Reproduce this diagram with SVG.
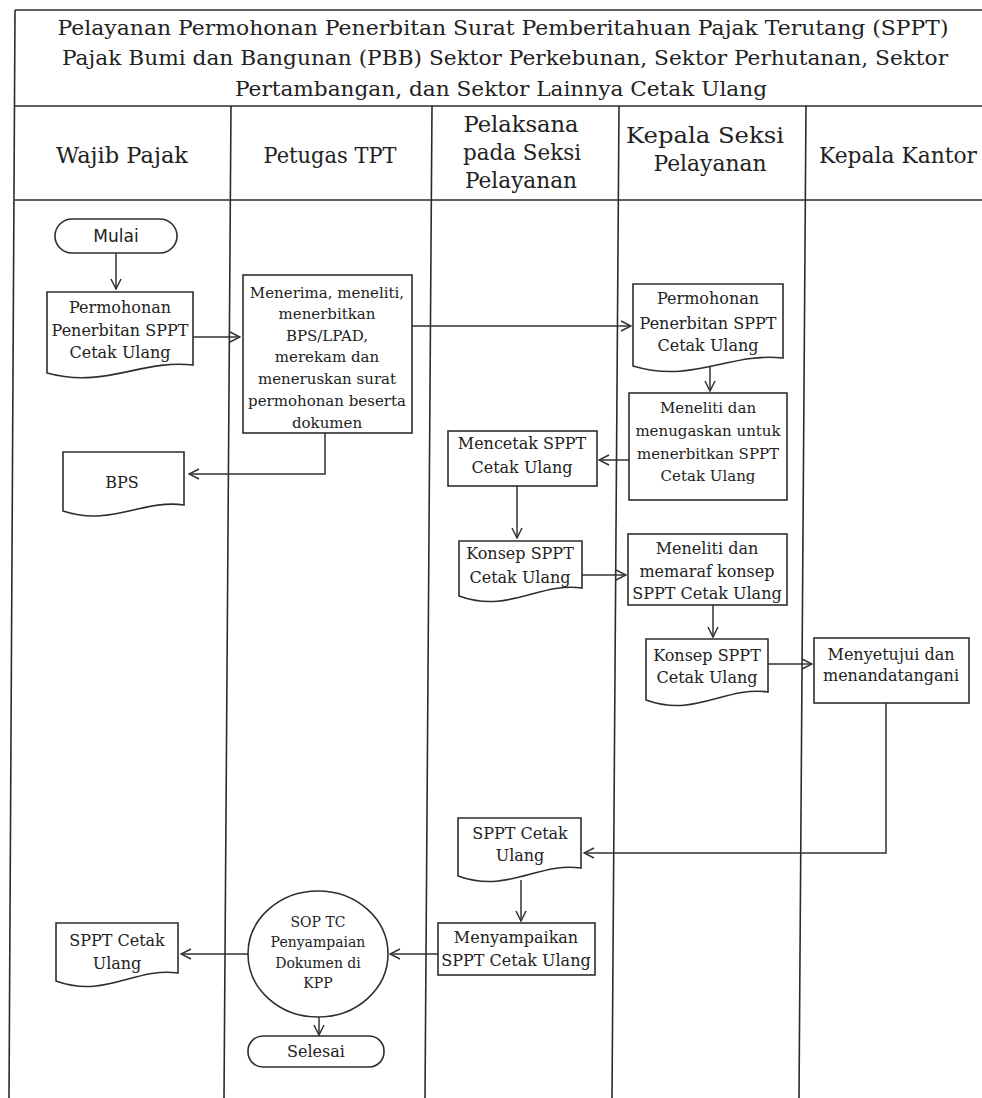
<svg xmlns="http://www.w3.org/2000/svg" width="982" height="1098" viewBox="0 0 982 1098">
<defs>
<marker id="arr" markerUnits="userSpaceOnUse" markerWidth="12" markerHeight="12" viewBox="0 0 12 12" refX="11" refY="6" orient="auto">
<path d="M1,1 L11,6 L1,11" fill="none" stroke="#333" stroke-width="1.5"/>
</marker>
<style>
.frame{stroke:#2b2b2b;stroke-width:1.6;fill:none}
.shape{fill:#fff;stroke:#2e2e2e;stroke-width:1.6}
.conn{fill:none;stroke:#333;stroke-width:1.5}
.t{font-family:"DejaVu Serif","Liberation Serif",serif;fill:#222;text-anchor:middle}
.title{font-size:20px}
.hdr{font-size:22px}
.n{font-size:16px}
.m{font-size:15px}
.s{font-size:14px}
.sans{font-family:"DejaVu Sans","Liberation Sans",sans-serif;font-size:17px;fill:#222;text-anchor:middle}
</style>
</defs>
<rect width="982" height="1098" fill="#fff"/>
<g id="frame">
<line class="frame" x1="15" y1="10" x2="982" y2="10"/>
<line class="frame" x1="15" y1="106" x2="982" y2="106"/>
<line class="frame" x1="15" y1="200" x2="982" y2="200"/>
<line class="frame" x1="15" y1="10" x2="9" y2="1098"/>
<line class="frame" x1="231" y1="106" x2="224" y2="1098"/>
<line class="frame" x1="432" y1="106" x2="425" y2="1098"/>
<line class="frame" x1="619" y1="106" x2="612" y2="1098"/>
<line class="frame" x1="806" y1="106" x2="799" y2="1098"/>
</g>
<g id="title">
<text class="t title" x="503" y="35" textLength="891" lengthAdjust="spacingAndGlyphs">Pelayanan Permohonan Penerbitan Surat Pemberitahuan Pajak Terutang (SPPT)</text>
<text class="t title" x="505" y="65" textLength="886" lengthAdjust="spacingAndGlyphs">Pajak Bumi dan Bangunan (PBB) Sektor Perkebunan, Sektor Perhutanan, Sektor</text>
<text class="t title" x="501" y="96" textLength="532" lengthAdjust="spacingAndGlyphs">Pertambangan, dan Sektor Lainnya Cetak Ulang</text>
</g>
<g id="headers">
<text class="t hdr" x="122" y="163" textLength="132" lengthAdjust="spacingAndGlyphs">Wajib Pajak</text>
<text class="t hdr" x="330" y="163" textLength="133" lengthAdjust="spacingAndGlyphs">Petugas TPT</text>
<text class="t hdr" x="521" y="132" textLength="115" lengthAdjust="spacingAndGlyphs">Pelaksana</text>
<text class="t hdr" x="522" y="160" textLength="118" lengthAdjust="spacingAndGlyphs">pada Seksi</text>
<text class="t hdr" x="521" y="188" textLength="112" lengthAdjust="spacingAndGlyphs">Pelayanan</text>
<text class="t hdr" x="705" y="143" textLength="158" lengthAdjust="spacingAndGlyphs">Kepala Seksi</text>
<text class="t hdr" x="710" y="171" textLength="113" lengthAdjust="spacingAndGlyphs">Pelayanan</text>
<text class="t hdr" x="898" y="163" textLength="158" lengthAdjust="spacingAndGlyphs">Kepala Kantor</text>
</g>
<g id="connectors">
<line class="conn" x1="116" y1="253" x2="116" y2="289" marker-end="url(#arr)"/>
<line class="conn" x1="193" y1="337" x2="240" y2="337" marker-end="url(#arr)"/>
<line class="conn" x1="412" y1="326" x2="631" y2="326" marker-end="url(#arr)"/>
<polyline class="conn" points="325,433 325,474 189,474" marker-end="url(#arr)"/>
<line class="conn" x1="710" y1="362" x2="710" y2="391" marker-end="url(#arr)"/>
<line class="conn" x1="629" y1="460" x2="599" y2="460" marker-end="url(#arr)"/>
<line class="conn" x1="517" y1="486" x2="517" y2="538" marker-end="url(#arr)"/>
<line class="conn" x1="582" y1="575" x2="626" y2="575" marker-end="url(#arr)"/>
<line class="conn" x1="713" y1="605" x2="713" y2="637" marker-end="url(#arr)"/>
<line class="conn" x1="768" y1="664" x2="812" y2="664" marker-end="url(#arr)"/>
<polyline class="conn" points="886,703 886,853 584,853" marker-end="url(#arr)"/>
<line class="conn" x1="521" y1="880" x2="521" y2="921" marker-end="url(#arr)"/>
<line class="conn" x1="438" y1="954" x2="390" y2="954" marker-end="url(#arr)"/>
<line class="conn" x1="248" y1="954" x2="181" y2="954" marker-end="url(#arr)"/>
<line class="conn" x1="319" y1="1017" x2="319" y2="1035" marker-end="url(#arr)"/>
</g>
<g id="mulai">
<rect class="shape" x="55" y="219" width="122" height="34" rx="17"/>
<text class="sans" x="116" y="242">Mulai</text>
</g>
<g id="doc-permohonan-wp">
<path class="shape" d="M47,292 H193 V365 C142,359 105,389 47,373 Z"/>
<text class="t n" x="120" y="313">Permohonan</text>
<text class="t n" x="120" y="336">Penerbitan SPPT</text>
<text class="t n" x="120" y="358">Cetak Ulang</text>
</g>
<g id="menerima">
<rect class="shape" x="243" y="275" width="169" height="158"/>
<text class="t m" x="327" y="298">Menerima, meneliti,</text>
<text class="t m" x="327" y="319">menerbitkan</text>
<text class="t m" x="327" y="341">BPS/LPAD,</text>
<text class="t m" x="327" y="362">merekam dan</text>
<text class="t m" x="327" y="384">meneruskan surat</text>
<text class="t m" x="327" y="406">permohonan beserta</text>
<text class="t m" x="327" y="428">dokumen</text>
</g>
<g id="bps">
<path class="shape" d="M63,452 H184 V505 C142,499 111,527 63,511 Z"/>
<text class="t n" x="122" y="488">BPS</text>
</g>
<g id="doc-permohonan-ks">
<path class="shape" d="M633,284 H783 V358 C730,352 693,384 633,366 Z"/>
<text class="t n" x="708" y="304">Permohonan</text>
<text class="t n" x="708" y="329">Penerbitan SPPT</text>
<text class="t n" x="708" y="351">Cetak Ulang</text>
</g>
<g id="meneliti-menugaskan">
<rect class="shape" x="629" y="393" width="158" height="107"/>
<text class="t m" x="708" y="413">Meneliti dan</text>
<text class="t m" x="708" y="436">menugaskan untuk</text>
<text class="t m" x="708" y="459">menerbitkan SPPT</text>
<text class="t m" x="708" y="481">Cetak Ulang</text>
</g>
<g id="mencetak">
<rect class="shape" x="448" y="431" width="149" height="55"/>
<text class="t n" x="522" y="449">Mencetak SPPT</text>
<text class="t n" x="522" y="473">Cetak Ulang</text>
</g>
<g id="konsep-1">
<path class="shape" d="M459,541 H582 V588 C539,582 508,614 459,596 Z"/>
<text class="t n" x="520" y="559">Konsep SPPT</text>
<text class="t n" x="520" y="583">Cetak Ulang</text>
</g>
<g id="meneliti-memaraf">
<rect class="shape" x="628" y="534" width="159" height="71"/>
<text class="t n" x="707" y="554">Meneliti dan</text>
<text class="t n" x="707" y="577">memaraf konsep</text>
<text class="t n" x="707" y="599">SPPT Cetak Ulang</text>
</g>
<g id="konsep-2">
<path class="shape" d="M646,639 H768 V692 C725,686 695,718 646,700 Z"/>
<text class="t n" x="707" y="661">Konsep SPPT</text>
<text class="t n" x="707" y="683">Cetak Ulang</text>
</g>
<g id="menyetujui">
<rect class="shape" x="814" y="638" width="155" height="65"/>
<text class="t n" x="891" y="660">Menyetujui dan</text>
<text class="t n" x="891" y="681">menandatangani</text>
</g>
<g id="sppt-pelaksana">
<path class="shape" d="M458,818 H581 V868 C538,862 507,894 458,876 Z"/>
<text class="t n" x="520" y="839">SPPT Cetak</text>
<text class="t n" x="520" y="861">Ulang</text>
</g>
<g id="menyampaikan">
<rect class="shape" x="438" y="923" width="157" height="52"/>
<text class="t n" x="516" y="943">Menyampaikan</text>
<text class="t n" x="516" y="966">SPPT Cetak Ulang</text>
</g>
<g id="sop-tc">
<ellipse class="shape" cx="318" cy="954" rx="70" ry="63"/>
<text class="t s" x="318" y="927">SOP TC</text>
<text class="t s" x="318" y="947">Penyampaian</text>
<text class="t s" x="318" y="968">Dokumen di</text>
<text class="t s" x="318" y="988">KPP</text>
</g>
<g id="sppt-wp">
<path class="shape" d="M56,923 H178 V973 C135,967 105,999 56,981 Z"/>
<text class="t n" x="117" y="946">SPPT Cetak</text>
<text class="t n" x="117" y="969">Ulang</text>
</g>
<g id="selesai">
<rect class="shape" x="248" y="1036" width="136" height="31" rx="15"/>
<text class="t n" x="316" y="1057">Selesai</text>
</g>
</svg>
